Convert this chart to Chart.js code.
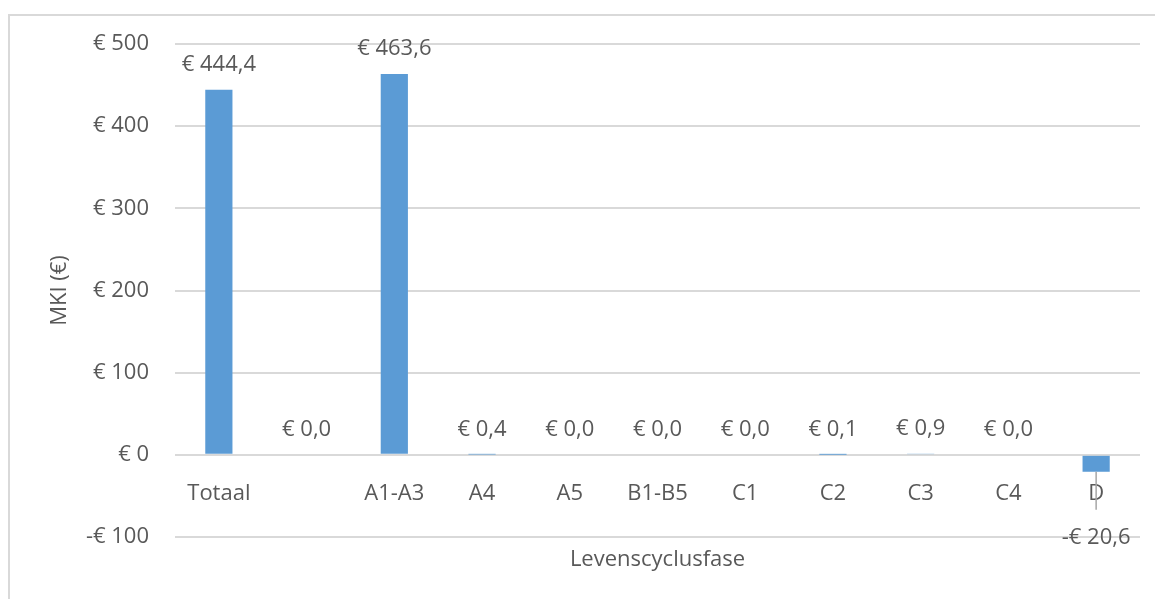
<!DOCTYPE html>
<html>
<head>
<meta charset="utf-8">
<script src="https://cdn.jsdelivr.net/npm/chart.js@4"></script>
<style>
  body { margin: 0; background: #fff; }
  #wrap { position: relative; width: 1155px; height: 599px; overflow: hidden; }
  #frame { position: absolute; left: 8px; top: 14px; width: 1200px; height: 700px;
           border-left: 2px solid #d9d9d9; border-top: 2px solid #d9d9d9; pointer-events: none; }
  canvas { position: absolute; left: 0; top: 0; }
</style>
</head>
<body>
<div id="wrap">
  <canvas id="mkiChart" width="1155" height="599"></canvas>
  <div id="frame"></div>
</div>
<script>
// --- Data ---
const phases = ['Totaal', '', 'A1-A3', 'A4', 'A5', 'B1-B5', 'C1', 'C2', 'C3', 'C4', 'D'];
const mkiValues = [444.4, 0.0, 463.6, 0.4, 0.0, 0.0, 0.0, 0.1, 0.9, 0.0, -20.6];
const yTicks = [-100, 0, 100, 200, 300, 400, 500];

const textColor = '#595959';
const fontFamily = '"Open Sans", "Noto Sans", sans-serif';
const fontSize = 22;

function euro(v, decimals) {
    const s = Math.abs(v).toFixed(decimals).replace('.', ',');
    return (v < 0 ? '-€ ' : '€ ') + s;
}

// draws the value labels (and the leader line for the moved negative label)
const valueLabels = {
    id: 'valueLabels',
    afterDatasetsDraw(chart) {
        const ctx = chart.ctx;
        const meta = chart.getDatasetMeta(0);
        ctx.save();
        ctx.font = fontSize + 'px ' + fontFamily;
        ctx.fillStyle = textColor;
        ctx.textAlign = 'center';
        ctx.textBaseline = 'middle';
        meta.data.forEach((bar, i) => {
            const v = mkiValues[i];
            if (v < 0) {
                // label was dragged below the axis labels in the original
                ctx.strokeStyle = '#a6a6a6';
                ctx.lineWidth = 1.5;
                ctx.beginPath();
                ctx.moveTo(bar.x, bar.y);
                ctx.lineTo(bar.x, bar.y + 38);
                ctx.stroke();
                ctx.fillText(euro(v, 1), bar.x, bar.y + 66);
            } else {
                ctx.fillText(euro(v, 1), bar.x, bar.y - 25);
            }
        });
        ctx.restore();
    }
};

const ctx = document.getElementById('mkiChart').getContext('2d');
const mkiChart = new Chart(ctx, {
    type: 'bar',
    data: {
        labels: phases,
        datasets: [{
            data: mkiValues,
            backgroundColor: '#5b9bd5',
            barPercentage: 0.31,
            categoryPercentage: 1.0
        }]
    },
    options: {
        responsive: false,
        animation: false,
        layout: { padding: { top: 44, right: 15, bottom: 0, left: 0 } },
        plugins: {
            legend: { display: false },
            tooltip: { enabled: false },
            title: {
                display: true,
                text: 'Levenscyclusfase',
                position: 'bottom',
                fullSize: false,
                color: textColor,
                font: { family: fontFamily, size: fontSize, weight: 'normal' },
                padding: { top: 9.8, bottom: 25.8 }
            }
        },
        scales: {
            x: {
                position: { y: 0 },
                grid: { display: false },
                border: { display: false },
                ticks: {
                    color: textColor,
                    font: { family: fontFamily, size: fontSize },
                    padding: 18,
                    maxRotation: 0,
                    autoSkip: false
                }
            },
            y: {
                min: -100,
                max: 500,
                afterBuildTicks(scale) {
                    scale.ticks = yTicks.map(v => ({ value: v }));
                },
                afterFit(scale) { scale.width = 175; },
                grid: { color: '#d9d9d9', lineWidth: 2, drawTicks: false },
                border: { display: false },
                ticks: {
                    color: textColor,
                    font: { family: fontFamily, size: fontSize },
                    padding: 26,
                    callback: v => euro(v, 0)
                },
                title: {
                    display: true,
                    text: 'MKI (€)',
                    color: textColor,
                    font: { family: fontFamily, size: fontSize },
                    padding: { top: 47, bottom: 0 }
                }
            }
        }
    },
    plugins: [valueLabels]
});
</script>
</body>
</html>
